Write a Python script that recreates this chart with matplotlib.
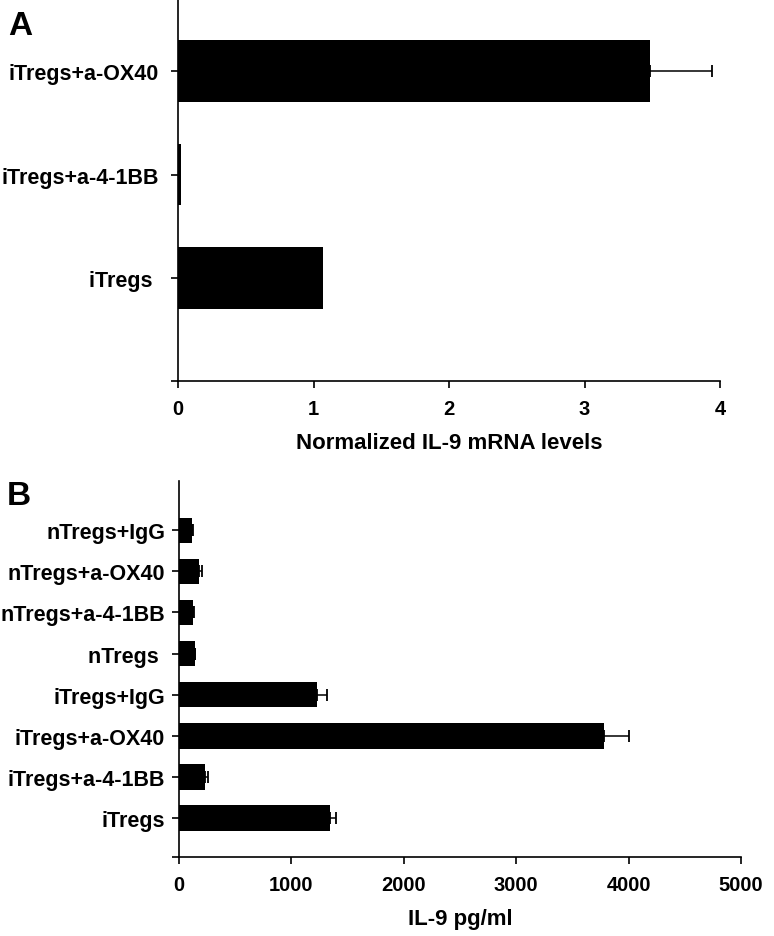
import numpy as np
import matplotlib
matplotlib.use("Agg")
import matplotlib.pyplot as plt

plt.rcParams['font.family'] = ['Liberation Sans', 'DejaVu Sans']
plt.rcParams['font.weight'] = 'bold'

# panel A: normalized IL-9 mRNA
a_labels = ['iTregs ', 'iTregs+a-4-1BB', 'iTregs+a-OX40']
a_vals = [1.07, 0.02, 3.48]
a_errs = [0.0, 0.0, 0.46]

# panel B: IL-9 protein (pg/ml)
b_labels = ['iTregs', 'iTregs+a-4-1BB', 'iTregs+a-OX40', 'iTregs+IgG',
            'nTregs ', 'nTregs+a-4-1BB', 'nTregs+a-OX40', 'nTregs+IgG']
b_vals = [1340, 232, 3778, 1228, 138, 124, 180, 118]
b_errs = [58, 22, 222, 92, 6, 8, 24, 8]


def draw_panel(ax, labels, vals, errs, height, ylim, xticks, xlabel, ypad):
    pos = np.arange(len(vals))
    ax.barh(pos, vals, height=height, color='black')
    e = np.array(errs)
    keep = e > 0
    ax.errorbar(np.array(vals)[keep], pos[keep],
                xerr=[np.zeros(keep.sum()), e[keep]],
                fmt='none', ecolor='black', elinewidth=1.1,
                capsize=4.5, capthick=1.3)
    ax.set_ylim(*ylim)
    ax.set_xlim(xticks[0], xticks[-1])
    ax.set_xticks(xticks)
    ax.set_yticks(pos)
    ax.set_yticklabels(labels)
    ax.set_yticks([ylim[0]], minor=True)
    ax.spines['top'].set_visible(False)
    ax.spines['right'].set_visible(False)
    for s in ('left', 'bottom'):
        ax.spines[s].set_linewidth(1.2)
    ax.tick_params(axis='y', which='both', length=5, width=1.2, pad=ypad,
                   labelsize=15.5)
    ax.tick_params(axis='x', length=5, width=1.2, pad=8, labelsize=14.5)
    ax.set_xlabel(xlabel, fontsize=16, fontweight='bold', labelpad=10)


fig = plt.figure(figsize=(7.74, 9.37), dpi=100)

axA = fig.add_axes([178/774, 1 - 382/937, (720-178)/774, 382/937])
draw_panel(axA, a_labels, a_vals, a_errs, 0.6, (-1, 2.7),
           [0, 1, 2, 3, 4], 'Normalized IL-9 mRNA levels', 9)

axB = fig.add_axes([179/774, 1 - 858/937, (741-179)/774, (858-482)/937])
draw_panel(axB, b_labels, b_vals, b_errs, 0.62, (-0.95, 8.2),
           [0, 1000, 2000, 3000, 4000, 5000], 'IL-9 pg/ml', 5)

fig.text(8/774, 1 - 35/937, 'A', fontsize=24, fontweight='bold')
fig.text(7/774, 1 - 505/937, 'B', fontsize=24, fontweight='bold')

fig.savefig('out.png', dpi=100)
